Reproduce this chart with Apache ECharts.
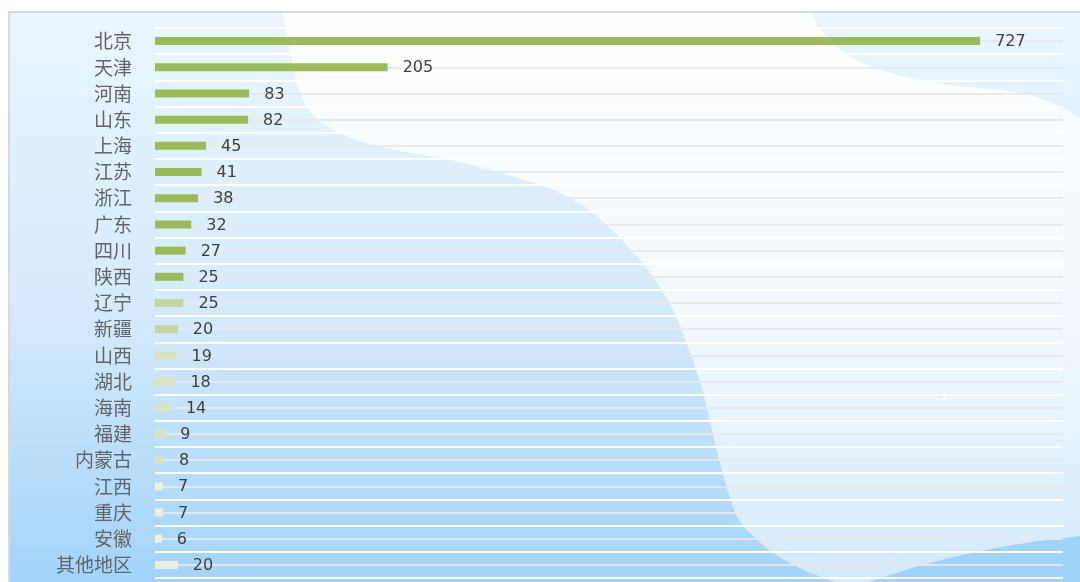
<!DOCTYPE html>
<html>
<head>
<meta charset="utf-8">
<script src="https://cdn.jsdelivr.net/npm/echarts@6/dist/echarts.min.js"></script>
<style>
  html, body { margin: 0; padding: 0; background: #ffffff; }
  #chart { width: 1080px; height: 582px; }
</style>
</head>
<body>
<div id="chart"></div>
<script>
const regions = ['北京', '天津', '河南', '山东', '上海', '江苏', '浙江', '广东', '四川', '陕西', '辽宁',
  '新疆', '山西', '湖北', '海南', '福建', '内蒙古', '江西', '重庆', '安徽', '其他地区']
const counts = [727, 205, 83, 82, 45, 41, 38, 32, 27, 25, 25, 20, 19, 18, 14, 9, 8, 7, 7, 6, 20]

// bar shades, darkest first (how many bars use each shade)
const shades = [
  { color: '#9bbb59', n: 10 },
  { color: '#c3d69b', n: 2 },
  { color: '#d7e4bd', n: 5 },
  { color: '#ebf1de', n: 4 },
]
const barColors = shades.flatMap((s) => Array(s.n).fill(s.color))

// background decoration outlines: start point, then lines / cubic curves
const waveOutline = [
  [283, 13], ['L', 810, 13], ['C', 832, 52, 862, 80, 1000, 90], ['C', 1040, 95, 1062, 106, 1080, 118],
  ['L', 1080, 582], ['L', 835, 582], ['C', 820, 578, 790, 565, 769, 550], ['C', 750, 535, 742, 525, 737, 517],
  ['C', 728, 495, 725, 480, 721, 467], ['C', 714, 440, 710, 420, 705, 400], ['C', 700, 380, 695, 365, 689, 350],
  ['C', 682, 330, 676, 315, 668, 300], ['C', 656, 280, 645, 265, 631, 250], ['C', 615, 232, 602, 220, 589, 210],
  ['C', 575, 200, 560, 192, 546, 187], ['C', 515, 176, 480, 166, 451, 160], ['C', 420, 154, 390, 150, 366, 143],
  ['C', 330, 132, 310, 118, 303, 100], ['C', 295, 80, 290, 50, 283, 13],
]
const bumpOutline = [[870, 582], ['C', 925, 562, 988, 546, 1080, 536], ['L', 1080, 582]]

function outlinePoints(outline) {
  const pts = [outline[0].slice()]
  for (const seg of outline.slice(1)) {
    const [x0, y0] = pts[pts.length - 1]
    if (seg[0] === 'L') { pts.push([seg[1], seg[2]]); continue }
    const [, x1, y1, x2, y2, x3, y3] = seg
    for (let k = 1; k <= 16; k++) {
      const t = k / 16, u = 1 - t
      pts.push([
        u * u * u * x0 + 3 * u * u * t * x1 + 3 * u * t * t * x2 + t * t * t * x3,
        u * u * u * y0 + 3 * u * u * t * y1 + 3 * u * t * t * y2 + t * t * t * y3,
      ])
    }
  }
  return pts
}

const chart = echarts.init(document.getElementById('chart'))

chart.setOption({
  animation: false,
  backgroundColor: '#ffffff',
  graphic: [
    {
      type: 'rect',
      z: -10,
      shape: { x: 9, y: 12, width: 1090, height: 600 },
      style: {
        stroke: '#d9d9d9',
        lineWidth: 2,
        fill: new echarts.graphic.LinearGradient(0, 0, 0, 1, [
          { offset: 0, color: '#eaf6ff' },
          { offset: 0.5, color: '#d4eafc' },
          { offset: 1, color: '#9dd1f9' },
        ]),
      },
    },
    {
      type: 'polygon',
      z: -9,
      shape: { points: outlinePoints(waveOutline) },
      style: {
        fill: new echarts.graphic.LinearGradient(0, 0, 0, 1, [
          { offset: 0, color: 'rgba(255,255,255,0.9)' },
          { offset: 1, color: 'rgba(255,255,255,0.5)' },
        ]),
      },
    },
    {
      type: 'polygon',
      z: -8,
      shape: { points: outlinePoints(bumpOutline) },
      style: { fill: '#9fd3fa' },
    },
    {
      type: 'text',
      z: -7,
      x: 941,
      y: 391,
      style: { text: '›', fill: '#ffffff', font: 'bold 15px DejaVu Sans' },
    },
  ],
  grid: { left: 155, right: 17, top: 28, bottom: 4 },
  xAxis: {
    type: 'value',
    min: 0,
    max: 800,
    show: false,
  },
  yAxis: {
    type: 'category',
    inverse: true,
    data: regions,
    axisLine: { show: false },
    axisTick: { show: false },
    axisLabel: {
      margin: 23,
      fontSize: 19,
      color: '#646464',
      fontFamily: 'Noto Sans CJK SC',
    },
    splitLine: { show: true, lineStyle: { color: '#ffffff', width: 2 } },
  },
  series: [
    {
      type: 'bar',
      z: 2,
      barWidth: 8,
      data: counts.map((v, i) => ({ value: v, itemStyle: { color: barColors[i] } })),
      label: {
        show: true,
        position: 'right',
        distance: 15,
        offset: [0, 1],
        fontSize: 16,
        color: '#404040',
        fontFamily: 'DejaVu Sans',
      },
      markLine: {
        z: 1,
        silent: true,
        symbol: ['none', 'none'],
        label: { show: false },
        lineStyle: { color: 'rgba(232,232,232,0.9)', width: 2, type: 'solid' },
        data: regions.map((r) => ({ yAxis: r })),
      },
    },
  ],
})
</script>
</body>
</html>
